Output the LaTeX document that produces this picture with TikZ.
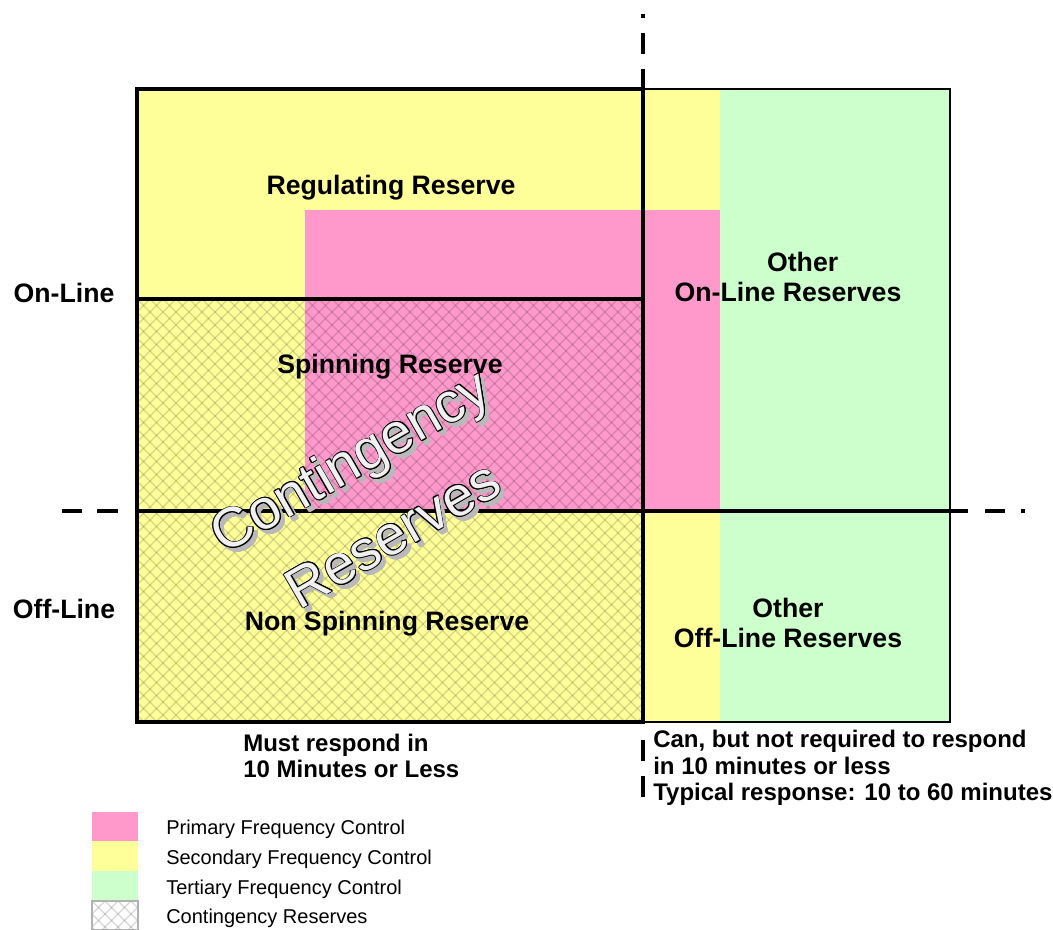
\documentclass[tikz,border=0pt]{standalone}
\usepackage{fontspec}
\setmainfont{Liberation Sans}
\usepackage{contour}
\contourlength{0.6pt}
\contournumber{12}
\definecolor{pfc}{HTML}{FF99CC}
\definecolor{sfc}{HTML}{FFFF99}
\definecolor{tfc}{HTML}{CCFFCC}
\tikzset{
	thickline/.style={line width=3.2pt},
	dashseg/.style={line width=3.6pt},
	hatchline/.style={black, opacity=0.16, line width=0.9pt},
	boxlabel/.style={font=\bfseries\fontsize{20}{23}\selectfont, align=center},
	note/.style={font=\bfseries\fontsize{18}{20}\selectfont, align=left, anchor=west, inner sep=0pt},
	legendlabel/.style={font=\fontsize{15}{18}\selectfont, anchor=west, inner sep=0pt},
	bigtext/.style={font=\fontsize{42}{64}\selectfont, align=center, rotate=30},
}
\begin{document}
\begin{tikzpicture}[x=0.75pt, y=-0.75pt]
\useasboundingbox (0,0) rectangle (1053,930);

% ==== colour fields ====
\fill[sfc] (137,89) rectangle (720,722);
\fill[pfc] (305,210) rectangle (720,511);
\fill[tfc] (720,89) rectangle (950,722);

% ==== contingency hatch ====
\begin{scope}
	\clip (137,299) rectangle (643,722);
	\foreach \i in {-33,...,39}
		\draw[hatchline] ({137+13*\i},299) -- ++(423,423);
	\foreach \i in {0,...,72}
		\draw[hatchline] ({137+13*\i},299) -- ++(-423,423);
\end{scope}

% ==== frames ====
\draw[line width=1.5pt] (643,89) rectangle (950,722);
\draw[thickline] (137,89) rectangle (643,722);
\draw[thickline] (137,299) -- (643,299);
\draw[thickline] (137,511) -- (968,511);

% dashed guide lines
\draw[dashseg] (62,511) -- (82,511) (97,511) -- (118,511)
	(985,511) -- (1005,511) (1021,511) -- (1025,511);
\draw[dashseg] (643,14) -- (643,18) (643,33) -- (643,54) (643,69) -- (643,89)
	(643,740) -- (643,761) (643,776) -- (643,797);

% ==== labels ====
\node[boxlabel] (regres) at (391,188) {Regulating Reserve};
\node[boxlabel] (spinres) at (390,367) {Spinning Reserve};
\node[boxlabel] (nonspin) at (387,624) {Non Spinning Reserve};
\node[boxlabel] (online) at (64,293) {On-Line};
\node[boxlabel] (offline) at (64,609) {Off-Line};
\node[boxlabel] (otheron) at (788,277) {\hspace*{22pt}Other\\On-Line Reserves};
\node[boxlabel] (otheroff) at (788,623) {Other\\Off-Line Reserves};

\node[note] (mustresp) at (243,756) {Must respond in\\10 Minutes or Less};
\node[note] (canresp) at (653,768)
	{Can, but not required to respond\\in 10 minutes or less\\Typical response: 10 to 60 minutes};

% outlined contingency text with shadow
\node[bigtext, text=gray!55] (contshadow) at (375,501)
	{\contour{gray!55}{Contingency}\\\contour{gray!55}{Reserves}};
\node[bigtext] (contres) at (371,497)
	{\contour{black}{\textcolor{gray!12}{Contingency}}\\\contour{black}{\textcolor{gray!12}{Reserves}}};

% ==== legend ====
\fill[pfc] (92,812) rectangle (138,841);
\fill[sfc] (92,841) rectangle (138,871);
\fill[tfc] (92,871) rectangle (138,901);
\begin{scope}
	\clip (92,901) rectangle (138,930);
	\foreach \i in {-3,...,4}
		\draw[hatchline] ({92+13*\i},901) -- ++(30,30);
	\foreach \i in {0,...,6}
		\draw[hatchline] ({92+13*\i},901) -- ++(-30,30);
\end{scope}
\draw[gray!60, line width=0.8pt] (92,901) rectangle (138,930);

\foreach \t/\y [count=\k] in {Primary Frequency Control/829, Secondary Frequency Control/859,
	Tertiary Frequency Control/889, Contingency Reserves/918}
	\node[legendlabel] (leg\k) at (166,\y) {\t};

\end{tikzpicture}
\end{document}
